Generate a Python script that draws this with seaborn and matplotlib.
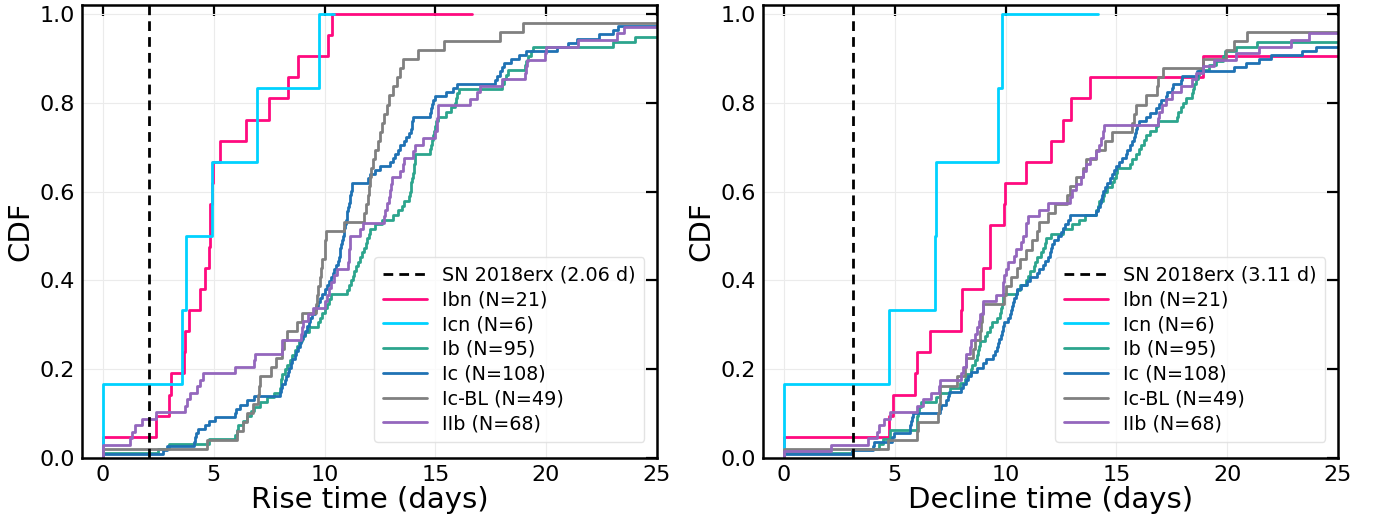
import numpy as np
import pandas as pd
import matplotlib
matplotlib.use("Agg")
import matplotlib.pyplot as plt
import seaborn as sns

# ---- Sample values (days) per spectral class ----
classes = ["Ibn", "Icn", "Ib", "Ic", "Ic-BL", "IIb"]
colors = ["#ff0a7f", "#00d2ff", "#2ca58d", "#1f72b4", "#808080", "#9467bd"]

rise_ibn = [2.39, 2.99, 3.05, 3.65, 3.72, 3.9, 4.38, 4.6, 4.78, 4.82, 4.85,
            4.92, 4.97, 5.28, 6.44, 7.5, 8.36, 8.81, 10.17, 10.36, 16.64]
rise_icn = [3.55, 3.75, 4.9, 6.93, 9.75, 10.42]
rise_ib = [2.5, 3.0, 4.8, 5.95, 6.05, 6.1, 6.3, 6.5, 6.7, 6.8, 7.1, 7.4, 7.7,
           8.0, 8.02, 8.04, 8.1, 8.2, 8.3, 8.45, 8.55, 8.65, 8.74, 8.85, 9.0,
           9.1, 9.3, 9.7, 9.8, 9.9, 10.0, 10.1, 10.2, 10.3, 11.0, 11.1, 11.2,
           11.3, 11.35, 11.4, 11.5, 11.6, 11.7, 11.8, 11.85, 11.9, 12.0, 12.05,
           12.3, 12.6, 13.1, 13.3, 13.5, 13.6, 13.8, 13.85, 13.9, 13.92, 13.95,
           14.0, 14.02, 14.05, 14.08, 14.1, 14.75, 14.8, 14.85, 14.9, 14.95,
           15.0, 15.05, 15.1, 15.5, 15.7, 15.9, 15.95, 16.0, 16.05, 18.0, 18.1,
           18.2, 18.3, 19.05, 19.1, 19.2, 19.3, 19.4, 23.0, 24.0, 26.0, 27.5,
           29.0, 31.0, 34.0, 38.0]
rise_ic = [2.7, 2.9, 4.1, 4.15, 4.2, 4.3, 4.6, 4.8, 5.05, 5.96, 6.0, 6.2, 6.5,
           6.8, 8.0, 8.05, 8.1, 8.2, 8.25, 8.35, 8.4, 8.5, 8.55, 8.65, 8.7, 8.8,
           8.9, 8.95, 9.05, 9.1, 9.2, 9.3, 9.35, 9.45, 9.55, 9.6, 9.7, 9.8, 9.9,
           10.0, 10.1, 10.2, 10.3, 10.4, 10.45, 10.5, 10.6, 10.65, 10.7, 10.72,
           10.75, 10.8, 10.83, 10.87, 10.9, 10.93, 10.96, 11.0, 11.03, 11.06,
           11.1, 11.13, 11.16, 11.2, 11.22, 11.25, 11.96, 12.05, 12.3, 12.5,
           12.95, 13.1, 13.2, 13.3, 13.4, 13.6, 13.7, 13.8, 13.9, 13.93, 13.96,
           14.0, 14.75, 14.8, 14.85, 14.9, 15.0, 15.5, 15.8, 16.0, 17.7, 17.8,
           17.9, 18.0, 18.1, 18.4, 18.8, 19.1, 20.5, 21.0, 21.4, 22.4, 23.0,
           23.25, 26.0, 28.0, 31.0, 35.0]
rise_icbl = [4.68, 6.05, 6.3, 6.48, 6.75, 7.0, 7.05, 7.1, 7.6, 7.8, 8.1, 8.15,
             8.32, 8.74, 9.0, 9.6, 9.64, 9.7, 9.8, 9.85, 9.9, 10.0, 10.03,
             10.06, 10.9, 11.8, 11.85, 11.95, 12.0, 12.05, 12.1, 12.2, 12.3,
             12.4, 12.5, 12.6, 12.7, 12.8, 12.9, 13.1, 13.25, 13.4, 13.55, 14.2,
             15.4, 17.9, 18.95, 26.0, 30.0]
rise_iib = [0.0, 1.2, 1.3, 1.45, 1.75, 2.4, 3.7, 3.8, 3.93, 4.23, 4.38, 4.5,
            5.96, 6.8, 6.86, 8.06, 8.1, 8.95, 9.0, 9.05, 9.25, 9.5, 10.0, 10.1,
            10.2, 10.3, 10.45, 10.55, 11.07, 11.1, 11.12, 11.14, 11.16, 11.6,
            11.75, 12.7, 12.75, 12.8, 12.9, 12.95, 13.0, 13.05, 13.4, 13.55,
            13.6, 14.0, 14.1, 14.45, 15.0, 15.06, 15.08, 15.1, 15.12, 16.55,
            16.9, 17.0, 18.0, 19.05, 19.1, 19.15, 19.95, 20.0, 21.45, 23.2,
            23.5, 26.0, 29.0, 33.0]

decl_ibn = [4.75, 4.92, 5.93, 6.0, 6.58, 8.0, 8.03, 9.0, 9.28, 9.3, 9.95, 9.97,
            10.93, 12.06, 12.58, 12.96, 13.8, 18.9, 27.0, 31.0, 36.0]
decl_icn = [4.73, 6.8, 6.88, 9.68, 9.83, 14.16]
decl_ib = [3.05, 4.3, 4.45, 4.77, 4.8, 5.98, 6.0, 6.02, 6.05, 6.1, 6.2, 6.87,
           7.03, 7.5, 7.93, 8.15, 8.2, 8.45, 8.5, 8.6, 8.7, 8.74, 8.8, 8.85,
           9.05, 9.14, 9.3, 9.4, 9.6, 9.73, 9.8, 9.85, 9.87, 9.9, 10.5, 10.63,
           10.9, 11.0, 11.08, 11.3, 11.35, 11.44, 11.6, 11.7, 11.8, 11.84,
           12.06, 12.6, 13.0, 13.33, 13.6, 14.1, 14.15, 14.2, 14.4, 14.46, 14.6,
           14.8, 14.9, 15.0, 15.05, 15.6, 15.7, 15.9, 16.0, 16.1, 16.25, 16.35,
           16.5, 16.8, 16.9, 17.75, 17.8, 17.9, 18.0, 18.15, 18.4, 18.45, 18.5,
           18.6, 18.7, 18.75, 19.2, 19.5, 19.8, 19.9, 20.4, 21.35, 26.0, 27.0,
           28.5, 30.0, 32.0, 35.0, 40.0]
decl_ic = [3.05, 4.0, 4.05, 4.86, 4.95, 5.67, 5.7, 5.75, 5.78, 5.8, 7.03, 7.1,
           7.33, 7.4, 7.45, 8.0, 8.1, 8.2, 8.3, 8.45, 8.7, 8.97, 9.1, 9.42, 9.5,
           9.6, 9.65, 9.7, 9.8, 9.85, 9.9, 9.95, 10.1, 10.2, 10.25, 10.3, 10.35,
           10.4, 10.45, 10.5, 10.7, 10.95, 11.1, 11.4, 11.5, 11.7, 11.8, 11.9,
           12.0, 12.05, 12.1, 12.2, 12.35, 12.5, 12.6, 12.7, 12.8, 12.9, 14.1,
           14.15, 14.25, 14.3, 14.35, 14.4, 14.5, 14.6, 14.7, 14.8, 14.9, 15.0,
           15.13, 15.25, 15.44, 15.5, 15.6, 15.7, 15.8, 15.85, 15.9, 15.95,
           16.0, 16.35, 16.5, 16.8, 16.94, 17.0, 17.25, 17.3, 17.5, 17.55, 17.9,
           17.95, 18.65, 20.3, 20.85, 21.45, 22.0, 23.4, 24.0, 25.5, 26.5, 27.5,
           28.5, 30.0, 32.0, 34.0, 37.0, 42.0]
decl_icbl = [4.68, 6.0, 6.05, 6.95, 7.0, 7.03, 7.06, 7.8, 8.15, 8.2, 8.53, 8.6,
             8.83, 8.9, 8.95, 9.0, 9.95, 10.0, 10.25, 10.5, 10.63, 10.9, 11.2,
             11.4, 11.53, 11.9, 12.25, 12.75, 12.9, 13.2, 13.5, 13.65, 14.1,
             14.5, 14.8, 15.7, 15.8, 15.9, 16.35, 16.85, 16.9, 17.1, 18.9, 19.95,
             20.3, 20.9, 27.0, 31.0, 36.0]
decl_iib = [2.1, 3.8, 4.2, 4.3, 4.5, 4.77, 5.98, 6.27, 6.65, 7.0, 7.03, 8.0,
            8.1, 8.2, 8.23, 8.4, 8.45, 8.6, 8.7, 8.8, 8.85, 8.97, 9.0, 9.58,
            9.87, 9.9, 9.95, 10.03, 10.1, 10.4, 10.45, 10.7, 10.8, 10.9, 10.93,
            11.0, 11.5, 11.9, 12.9, 13.0, 13.2, 13.4, 13.5, 13.65, 13.8, 14.1,
            14.2, 14.3, 14.4, 14.46, 16.9, 16.94, 17.07, 17.25, 17.5, 17.9, 18.4,
            18.6, 18.9, 19.4, 20.4, 21.45, 22.9, 23.7, 26.0, 28.0, 31.0, 35.0]

sn2018erx_rise = 2.06
sn2018erx_decline = 3.11

rise_data = [rise_ibn, rise_icn, rise_ib, rise_ic, rise_icbl, rise_iib]
decl_data = [decl_ibn, decl_icn, decl_ib, decl_ic, decl_icbl, decl_iib]


def cdf_frame(values):
    """Cumulative fraction table, anchored at (0, 0)."""
    v = np.sort(np.asarray(values, dtype=float))
    n = len(v)
    x = np.r_[0.0, v]
    y = np.r_[0.0, np.arange(1, n + 1) / n]
    return pd.DataFrame({"x": x, "y": y}), n


sns.set_style("white")
plt.rcParams["font.family"] = ["DejaVu Sans"]
plt.rcParams["text.color"] = "black"
plt.rcParams["axes.labelcolor"] = "black"
plt.rcParams["xtick.color"] = "black"
plt.rcParams["ytick.color"] = "black"

fig = plt.figure(figsize=(13.77, 5.18), dpi=100)
ax1 = fig.add_axes([0.0595, 0.1158, 0.4175, 0.8745])
ax2 = fig.add_axes([0.5541, 0.1158, 0.4175, 0.8745])

panels = [
    (ax1, rise_data, sn2018erx_rise, "Rise time (days)"),
    (ax2, decl_data, sn2018erx_decline, "Decline time (days)"),
]

for ax, data, ref, xlabel in panels:
    ax.axvline(ref, color="black", ls="--", lw=2, dashes=(3.5, 2.2),
               label=f"SN 2018erx ({ref:.2f} d)", zorder=3)
    for name, col, vals in zip(classes, colors, data):
        df, n = cdf_frame(vals)
        sns.lineplot(data=df, x="x", y="y", ax=ax, color=col, lw=2,
                     drawstyle="steps-pre", estimator=None,
                     label=f"{name} (N={n})")
    ax.set_xlim(-0.95, 25)
    ax.set_ylim(0, 1.02)
    ax.set_xticks([0, 5, 10, 15, 20, 25])
    ax.set_yticks([0.0, 0.2, 0.4, 0.6, 0.8, 1.0])
    ax.set_yticklabels(["0.0", "0.2", "0.4", "0.6", "0.8", "1.0"])
    ax.grid(True, color="#ebebeb", lw=0.8)
    ax.set_axisbelow(True)
    ax.tick_params(direction="in", length=8, width=1.6, labelsize=16,
                   top=True, right=True, pad=5, colors="black")
    for sp in ax.spines.values():
        sp.set_linewidth(1.8)
        sp.set_color("black")
    ax.set_xlabel(xlabel, fontsize=21, labelpad=1)
    ax.set_ylabel("CDF", fontsize=21, labelpad=4)
    leg = ax.legend(loc="lower right", fontsize=13.8, frameon=True,
                    handlelength=2.3, borderpad=0.45, labelspacing=0.3,
                    handletextpad=0.8, bbox_to_anchor=(0.995, 0.015))
    leg.get_frame().set_edgecolor("#dddddd")

fig.savefig("out.png", dpi=100)
